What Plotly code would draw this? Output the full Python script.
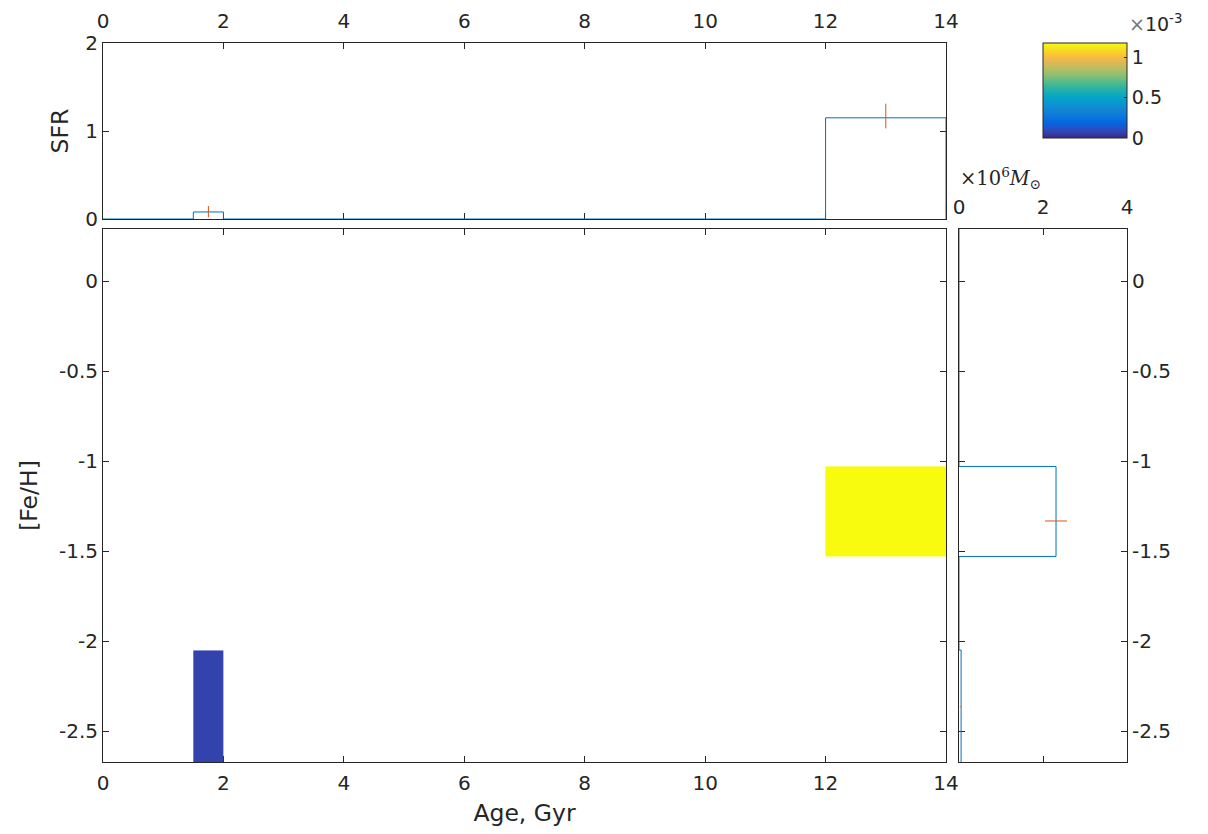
import plotly.graph_objects as go

# ---------------- data ----------------
# age-metallicity map (heatmap cells, bin edges)
age_edges = [1.5, 2.0, 12.0, 14.0]
feh_edges = [-3.0, -2.05, -1.53, -1.03]
mass_map = [
    [0.075e-3, None, None],
    [None, None, None],
    [None, None, 1.173e-3],
]

# SFR history (top panel)
sfr_age_edges = [0.0, 1.5, 2.0, 12.0, 14.0]
sfr_values = [0.0, 0.08, 0.0, 1.15]
sfr_err_age = [1.75, 13.0]
sfr_err_val = [0.084, 1.17]
sfr_err = [0.064, 0.14]

# metallicity distribution (right panel), mass in 1e6 Msun
mdf_feh_edges = [-3.0, -2.05, -1.53, -1.03, 0.5]
mdf_mass = [0.05, 0.0, 2.31, 0.0]
mdf_err_feh = [-2.365, -1.333]
mdf_err_mass = [0.03, 2.31]
mdf_err = [0.01, 0.26]

feh_ticks = [-2.5, -2.0, -1.5, -1.0, -0.5, 0.0]
feh_ticktext = ["-2.5", "-2", "-1.5", "-1", "-0.5", "0"]
cb_ticks = [0.0, 0.5e-3, 1.0e-3]
cb_ticktext = ["0", "0.5", "1"]

# ---------------- style ----------------
W, H = 1208, 834
OFF = 8  # page body margin
BLUE = "#0072BD"
RED = "#D95319"
AX = "#262626"
FONT = "DejaVu Sans"
TICK_SIZE = 20
LABEL_SIZE = 23.5

parula = [
    [0.0000, "#352a87"], [0.0476, "#363da3"], [0.0952, "#2c4fc3"],
    [0.1429, "#0a60dc"], [0.1905, "#066ee0"], [0.2381, "#0d79dc"],
    [0.2857, "#1283d4"], [0.3333, "#118ed1"], [0.3810, "#069bcf"],
    [0.4286, "#06a4c6"], [0.4762, "#15acb7"], [0.5238, "#2cb3a5"],
    [0.5714, "#49b992"], [0.6190, "#6cbd80"], [0.6667, "#91bf72"],
    [0.7143, "#afbe66"], [0.7619, "#cabb5d"], [0.8095, "#e4b953"],
    [0.8571, "#fbbc3e"], [0.9048, "#f9d22a"], [0.9524, "#f5e71d"],
    [1.0000, "#f9fb0e"],
]


def px(x):
    return (x - OFF) / W


def py(y):
    return 1 - (y - OFF) / H


def stairs(edges, vals):
    xs, ys = [edges[0]], [0.0]
    for i, v in enumerate(vals):
        xs += [edges[i], edges[i + 1]]
        ys += [v, v]
    xs.append(edges[-1])
    ys.append(0.0)
    return xs, ys


fig = go.Figure()

# heatmap
fig.add_trace(go.Heatmap(
    x=age_edges, y=feh_edges, z=mass_map,
    colorscale=parula, zmin=0, zmax=1.173e-3,
    hoverinfo="skip", xaxis="x", yaxis="y",
    colorbar=dict(
        x=px(1043), xanchor="left", y=py(43), yanchor="top",
        thickness=84, thicknessmode="pixels",
        len=95 / H, lenmode="fraction",
        xpad=0, ypad=0,
        outlinewidth=1, outlinecolor=AX,
        tickvals=cb_ticks, ticktext=cb_ticktext,
        ticks="inside", ticklen=3, tickcolor=AX,
        tickfont=dict(family=FONT, size=19, color=AX),
    ),
))

# SFR stairs
sx, sy = stairs(sfr_age_edges, sfr_values)
fig.add_trace(go.Scatter(x=sx, y=sy, mode="lines",
                         line=dict(color=BLUE, width=1),
                         xaxis="x2", yaxis="y2", hoverinfo="skip"))
fig.add_trace(go.Scatter(x=sfr_err_age, y=sfr_err_val, mode="markers",
                         marker=dict(size=1, color="rgba(0,0,0,0)"),
                         error_y=dict(type="data", array=sfr_err, color=RED,
                                      thickness=1, width=0),
                         xaxis="x2", yaxis="y2", hoverinfo="skip"))

# metallicity distribution stairs (horizontal)
my, mx = stairs(mdf_feh_edges, mdf_mass)
fig.add_trace(go.Scatter(x=mx, y=my, mode="lines",
                         line=dict(color=BLUE, width=1),
                         xaxis="x3", yaxis="y3", hoverinfo="skip"))
fig.add_trace(go.Scatter(x=mdf_err_mass, y=mdf_err_feh, mode="markers",
                         marker=dict(size=1, color="rgba(0,0,0,0)"),
                         error_x=dict(type="data", array=mdf_err, color=RED,
                                      thickness=1, width=0),
                         xaxis="x3", yaxis="y3", hoverinfo="skip"))

common = dict(showgrid=False, zeroline=False, showline=True, linecolor=AX,
              linewidth=1, ticks="inside", ticklen=6, tickcolor=AX,
              mirror="ticks", automargin=False, layer="below traces",
              tickfont=dict(family=FONT, size=TICK_SIZE, color=AX))

main_x = [px(103), px(946)]
main_y = [py(762), py(229)]

fig.update_layout(
    width=W, height=H,
    margin=dict(l=0, r=0, t=0, b=0, autoexpand=False),
    paper_bgcolor="white", plot_bgcolor="white",
    showlegend=False,
    font=dict(family=FONT, color=AX),
    xaxis=dict(domain=main_x, range=[0, 14], tickvals=[0, 2, 4, 6, 8, 10, 12, 14],
               anchor="y", ticklabelstandoff=3,
               title=dict(text="Age, Gyr", font=dict(size=LABEL_SIZE, family=FONT, color=AX),
                          standoff=10),
               **common),
    yaxis=dict(domain=main_y, range=[-2.672, 0.289], tickvals=feh_ticks,
               ticktext=feh_ticktext, anchor="x",
               title=dict(text="[Fe/H]", font=dict(size=LABEL_SIZE, family=FONT, color=AX),
                          standoff=14),
               **common),
    xaxis2=dict(domain=main_x, range=[0, 14], tickvals=[0, 2, 4, 6, 8, 10, 12, 14],
                anchor="y2", side="top", ticklabelstandoff=6, **common),
    yaxis2=dict(domain=[py(219), py(43)], range=[0, 2], tickvals=[0, 1, 2],
                anchor="x2",
                title=dict(text="SFR", font=dict(size=LABEL_SIZE, family=FONT, color=AX),
                           standoff=10),
                **common),
    xaxis3=dict(domain=[px(959), px(1127)], range=[0, 4], tickvals=[0, 2, 4],
                anchor="y3", side="top", ticklabelstandoff=6, **common),
    yaxis3=dict(domain=main_y, range=[-2.672, 0.289], tickvals=feh_ticks,
                ticktext=feh_ticktext, anchor="x3", side="right", **common),
    annotations=[
        dict(text="<span style='color:#777'>×</span>10<sup>-3</sup>",
             x=px(1127), y=py(23), xref="paper", yref="paper",
             xanchor="left", yanchor="middle", showarrow=False,
             font=dict(family=FONT, size=19, color=AX)),
        dict(text="×10<sup>6</sup><i>M</i><sub>⊙</sub>", x=px(958), y=py(178),
             xref="paper", yref="paper", xanchor="left", yanchor="middle",
             showarrow=False, font=dict(family="DejaVu Serif", size=19.5, color=AX)),
    ],
)

fig.write_html("out.html")
